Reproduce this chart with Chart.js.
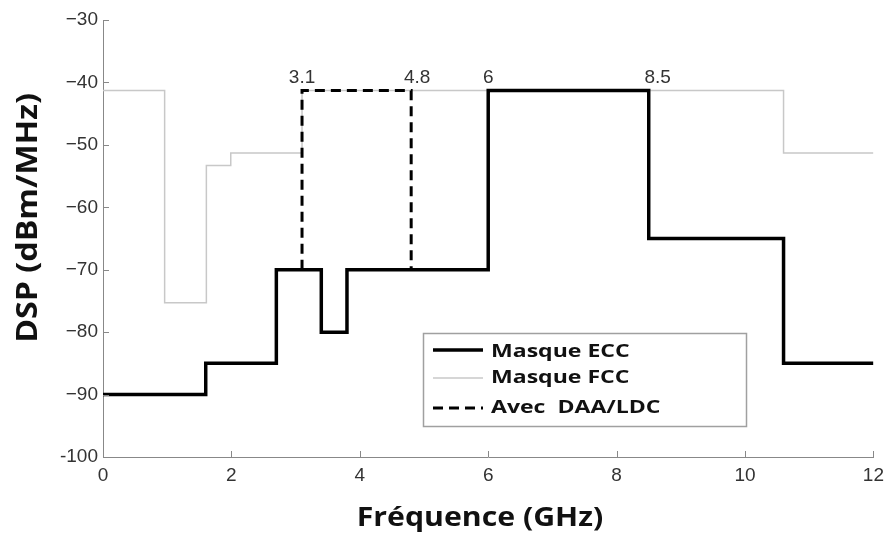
<!DOCTYPE html>
<html>
<head>
<meta charset="utf-8">
<script src="https://cdn.jsdelivr.net/npm/chart.js@4/dist/chart.umd.min.js"></script>
<style>
html,body{margin:0;padding:0;background:#fff;}
#wrap{width:891px;height:534px;position:relative;}
</style>
</head>
<body>
<div id="wrap"><canvas id="c" width="891" height="534"></canvas></div>
<script>
// ---- data ----
const eccX = [0, 1.6, 2.7, 3.4, 3.8, 6, 8.5, 10.6, 12];
const eccY = [-90, -85, -70, -80, -70, -41.3, -65, -85, -85];
const fccX = [0, 0.96, 1.61, 1.99, 3.1, 10.6, 12];
const fccY = [-41.3, -75.3, -53.3, -51.3, -41.3, -51.3, -51.3];
const daaX = [3.1, 3.1, 4.8, 4.8];
const daaY = [-70, -41.3, -41.3, -70];
const markX = [3.1, 4.8, 6, 8.5];
const markLabels = ['3.1', '4.8', '6', '8.5'];
const markY = -41.3;
const seriesNames = ['Masque ECC', 'Masque FCC', 'Avec  DAA/LDC'];
const xTitle = 'Fréquence (GHz)';
const yTitle = 'DSP (dBm/MHz)';
const xTicks = [0, 2, 4, 6, 8, 10, 12];
const yTicks = [-100, -90, -80, -70, -60, -50, -40, -30];

const pts = (xs, ys) => xs.map((x, i) => ({x: x, y: ys[i]}));

const tickFont = {family: 'Liberation Sans, Arial, sans-serif', size: 19};

const extras = {
  id: 'extras',
  afterDatasetsDraw(chart) {
    const ctx = chart.ctx;
    const xs = chart.scales.x, ys = chart.scales.y;
    const a = chart.chartArea;
    ctx.save();
    // inward ticks
    ctx.strokeStyle = '#888';
    ctx.lineWidth = 1;
    ctx.beginPath();
    xTicks.forEach(v => {
      const px = Math.round(xs.getPixelForValue(v)) + 0.5;
      ctx.moveTo(px, a.bottom); ctx.lineTo(px, a.bottom - 6);
    });
    yTicks.forEach(v => {
      const py = Math.round(ys.getPixelForValue(v)) + 0.5;
      ctx.moveTo(a.left, py); ctx.lineTo(a.left + 6, py);
    });
    ctx.stroke();
    // frequency marks
    ctx.fillStyle = '#333';
    ctx.font = '19px Liberation Sans, Arial, sans-serif';
    ctx.textAlign = 'center';
    ctx.textBaseline = 'alphabetic';
    const offs = [0, 6, 0, 9];
    markX.forEach((v, i) => {
      ctx.fillText(markLabels[i], xs.getPixelForValue(v) + offs[i], ys.getPixelForValue(markY) - 8);
    });
    // legend box
    const bx = 423.5, by = 333.5, bw = 323, bh = 93;
    ctx.fillStyle = '#fff';
    ctx.fillRect(bx, by, bw, bh);
    ctx.strokeStyle = '#a0a0a0';
    ctx.lineWidth = 1.5;
    ctx.strokeRect(bx, by, bw, bh);
    const rows = [350, 378, 408];
    const bases = [357, 383, 413];
    chart.data.datasets.forEach((ds, i) => {
      ctx.beginPath();
      ctx.strokeStyle = ds.borderColor;
      ctx.lineWidth = ds.borderWidth;
      ctx.setLineDash(ds.borderDash || []);
      ctx.moveTo(433, rows[i]); ctx.lineTo(483, rows[i]);
      ctx.stroke();
      ctx.setLineDash([]);
      ctx.save();
      ctx.translate(491, bases[i]);
      ctx.scale(1.28, 1);
      ctx.fillStyle = '#111';
      ctx.font = 'bold 18px Open Sans, sans-serif';
      ctx.textAlign = 'left';
      ctx.textBaseline = 'alphabetic';
      ctx.fillText(seriesNames[i], 0, 0);
      ctx.restore();
    });
    // axis titles
    ctx.fillStyle = '#111';
    ctx.textAlign = 'center';
    ctx.textBaseline = 'middle';
    ctx.save();
    ctx.translate(480, 518);
    ctx.scale(1.12, 1);
    ctx.font = 'bold 27px Open Sans, sans-serif';
    ctx.fillText(xTitle, 0, 0);
    ctx.restore();
    ctx.save();
    ctx.translate(29, 218);
    ctx.rotate(-Math.PI / 2);
    ctx.scale(1.15, 1);
    ctx.font = 'bold 28px Open Sans, sans-serif';
    ctx.fillText(yTitle, 0, 0);
    ctx.restore();
    ctx.restore();
  }
};

new Chart(document.getElementById('c'), {
  type: 'line',
  data: {
    datasets: [
      {label: seriesNames[0], data: pts(eccX, eccY), stepped: true,
       borderColor: '#000', borderWidth: 3.5, pointRadius: 0, fill: false, order: 1},
      {label: seriesNames[1], data: pts(fccX, fccY), stepped: true,
       borderColor: '#c8c8c8', borderWidth: 1.5, pointRadius: 0, fill: false, order: 3},
      {label: seriesNames[2], data: pts(daaX, daaY), stepped: false,
       borderColor: '#000', borderWidth: 3, borderDash: [10, 6], pointRadius: 0, fill: false, order: 2}
    ]
  },
  options: {
    responsive: false,
    animation: false,
    layout: {padding: {left: 0, right: 15, top: 20, bottom: 0}},
    plugins: {legend: {display: false}, tooltip: {enabled: false}},
    scales: {
      x: {
        type: 'linear', min: 0, max: 12,
        afterBuildTicks(s) { s.ticks = xTicks.map(v => ({value: v})); },
        afterFit(s) { s.height = 77; },
        grid: {display: true, drawOnChartArea: false, drawTicks: false},
        border: {display: true, color: '#888', width: 1},
        ticks: {font: tickFont, color: '#333', padding: 7, maxRotation: 0},
        title: {display: false}
      },
      y: {
        type: 'linear', min: -100, max: -30,
        afterBuildTicks(s) { s.ticks = yTicks.map(v => ({value: v})); },
        afterFit(s) { s.width = 103; },
        grid: {display: true, drawOnChartArea: false, drawTicks: false},
        border: {display: true, color: '#888', width: 1},
        ticks: {font: tickFont, color: '#333', padding: 5,
          callback: v => v === -100 ? '-100' : '\u2212' + Math.abs(v)},
        title: {display: false}
      }
    }
  },
  plugins: [extras]
});
</script>
</body>
</html>
